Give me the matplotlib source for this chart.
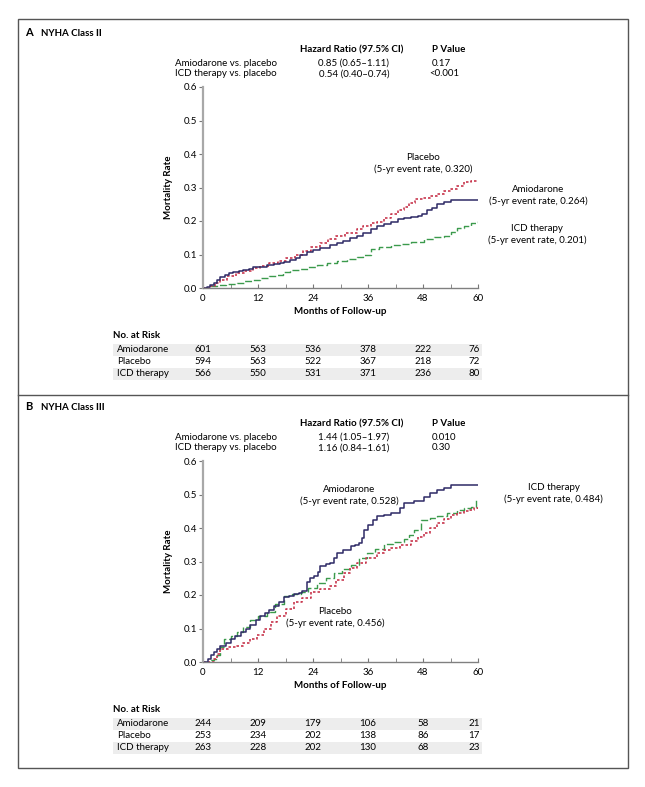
import numpy as np
import matplotlib
matplotlib.use("Agg")
import matplotlib.pyplot as plt
from matplotlib.patches import Rectangle
from matplotlib.lines import Line2D
import matplotlib.transforms as mtransforms

plt.rcParams['font.family'] = ['Lato', 'DejaVu Sans']
plt.rcParams['font.size'] = 7

W, H = 645, 787

# ---- data: panel A (NYHA class II) ----
a_amio_t = [0, 0.8, 1.5, 2.3, 3, 3.7, 4.8, 5.6, 6.6, 7.8, 8.8, 10, 11, 12.5, 13.9, 15.4,
            16.8, 17.6, 19, 20.2, 21.2, 22.7, 24.1, 25.6, 27.7, 29.3, 30.5, 32, 33.6,
            35, 36.6, 38, 39.5, 41, 42.5, 43.8, 45.3, 46.8, 47.8, 48.9, 50, 51.1, 52.5,
            54, 60]
a_amio_y = [0, 0.004, 0.009, 0.016, 0.024, 0.034, 0.04, 0.044, 0.047, 0.05, 0.054, 0.058,
            0.062, 0.064, 0.069, 0.072, 0.076, 0.079, 0.084, 0.09, 0.099, 0.106, 0.113,
            0.12, 0.128, 0.135, 0.14, 0.148, 0.155, 0.165, 0.175, 0.184, 0.19, 0.198,
            0.205, 0.209, 0.211, 0.216, 0.222, 0.232, 0.24, 0.252, 0.256, 0.264, 0.264]
a_plac_t = [0, 1.5, 2.6, 3.7, 5.2, 7.3, 9, 10.9, 12.5, 14.5, 16.3, 18.2, 20, 21.8, 23.5,
            25.5, 27.3, 29.1, 31, 33.6, 35, 36.6, 38, 39.5, 41, 42.5, 43.8, 45, 46.2,
            48, 49.5, 51.1, 52.5, 54, 55.5, 57, 58.5, 60]
a_plac_y = [0, 0.005, 0.014, 0.025, 0.035, 0.045, 0.052, 0.06, 0.066, 0.075, 0.082, 0.09,
            0.1, 0.11, 0.122, 0.135, 0.145, 0.155, 0.163, 0.176, 0.186, 0.193, 0.198,
            0.208, 0.22, 0.232, 0.243, 0.255, 0.267, 0.27, 0.276, 0.282, 0.29, 0.297,
            0.305, 0.317, 0.319, 0.320]
a_icd_t = [0, 1.5, 3, 5, 7.4, 9, 10.8, 12.5, 14.3, 16.2, 17.5, 19, 21, 23, 24.9, 27,
           29.3, 31.5, 33.6, 35, 36.6, 38.5, 41, 43, 45.3, 48.2, 50.5, 52.6, 54, 55.5,
           57, 58.5, 60]
a_icd_y = [0, 0.005, 0.01, 0.012, 0.015, 0.02, 0.025, 0.03, 0.035, 0.04, 0.047, 0.054,
           0.058, 0.064, 0.069, 0.075, 0.08, 0.087, 0.093, 0.1, 0.117, 0.123, 0.128,
           0.13, 0.138, 0.147, 0.152, 0.155, 0.168, 0.178, 0.185, 0.193, 0.201]

# ---- data: panel B (NYHA class III) ----
b_amio_t = [0, 1, 1.7, 2.3, 3, 3.8, 5, 6, 7, 8.2, 9.3, 10.3, 11.5, 12.5, 13.5, 14.5,
            15.4, 16.5, 17.6, 18.7, 19.8, 21, 21.6, 22.6, 23.4, 24.2, 25, 25.6, 26.8,
            27.8, 28.6, 29.3, 30.5, 32.2, 33.2, 34, 34.6, 35.1, 36, 37, 38, 39.5, 41,
            43, 43.8, 46, 48.2, 49.5, 51.1, 52.5, 54, 60]
b_amio_y = [0, 0.01, 0.02, 0.03, 0.04, 0.049, 0.058, 0.069, 0.078, 0.089, 0.1, 0.109,
            0.125, 0.138, 0.145, 0.155, 0.168, 0.18, 0.193, 0.196, 0.203, 0.205, 0.212,
            0.24, 0.25, 0.257, 0.27, 0.287, 0.292, 0.296, 0.31, 0.326, 0.335, 0.346,
            0.35, 0.356, 0.37, 0.395, 0.41, 0.425, 0.435, 0.44, 0.445, 0.46, 0.474,
            0.48, 0.494, 0.505, 0.514, 0.52, 0.528, 0.528]
b_plac_t = [0, 2.3, 3, 3.8, 5.5, 7.4, 8.8, 10.3, 11.8, 13.3, 14.8, 16.2, 18, 19.8, 21.5,
            23.5, 25.5, 27.8, 29, 30.7, 32, 33.6, 35.5, 38, 39.5, 41, 43, 45.3, 46.8,
            48.2, 49.5, 51.1, 52.5, 54, 55.5, 57, 58.2, 59.2, 60]
b_plac_y = [0, 0.01, 0.025, 0.04, 0.045, 0.049, 0.058, 0.069, 0.082, 0.099, 0.12, 0.138,
            0.158, 0.178, 0.19, 0.208, 0.217, 0.227, 0.245, 0.267, 0.282, 0.296, 0.31,
            0.326, 0.333, 0.341, 0.35, 0.361, 0.372, 0.385, 0.4, 0.415, 0.428, 0.44,
            0.444, 0.45, 0.455, 0.46, 0.456]
b_icd_t = [0, 1.6, 2.3, 3, 3.8, 4.5, 6, 7.4, 8.8, 10.3, 12, 14, 15.8, 17.6, 19.5, 21.3,
           23, 24.9, 26.8, 28.6, 30.4, 32.2, 34, 35.8, 37.5, 39.5, 41.5, 43.8, 45,
           46, 47.5, 49.5, 51.1, 53.3, 55.5, 57, 58.4, 59.5, 60]
b_icd_y = [0, 0.005, 0.01, 0.02, 0.045, 0.069, 0.078, 0.089, 0.105, 0.124, 0.136, 0.148,
           0.172, 0.198, 0.203, 0.208, 0.222, 0.237, 0.252, 0.267, 0.279, 0.291, 0.31,
           0.326, 0.338, 0.351, 0.358, 0.366, 0.38, 0.395, 0.425, 0.43, 0.435, 0.445,
           0.455, 0.46, 0.464, 0.484, 0.484]

risk_months = [0, 12, 24, 36, 48, 60]
groups = ['Amiodarone', 'Placebo', 'ICD therapy']
a_risk = [[601, 563, 536, 378, 222, 76],
          [594, 563, 522, 367, 218, 72],
          [566, 550, 531, 371, 236, 80]]
b_risk = [[244, 209, 179, 106, 58, 21],
          [253, 234, 202, 138, 86, 17],
          [263, 228, 202, 130, 68, 23]]

a_hr = [('Amiodarone vs. placebo', '0.85 (0.65\u20131.11)', '0.17'),
        ('ICD therapy vs. placebo', '0.54 (0.40\u20130.74)', '<0.001')]
b_hr = [('Amiodarone vs. placebo', '1.44 (1.05\u20131.97)', '0.010'),
        ('ICD therapy vs. placebo', '1.16 (0.84\u20131.61)', '0.30')]

c_amio = '#2e2a66'
c_plac = '#c8384f'
c_icd = '#3b9a4c'


def fx(px):
    return px / W


def fy(py):
    return 1 - py / H


fig = plt.figure(figsize=(6.45, 7.87), dpi=100)

# outer frame + divider
fig.patches.append(Rectangle((fx(18), fy(768)), fx(628) - fx(18), fy(19) - fy(768),
                             transform=fig.transFigure, fill=False, ec='#555555', lw=1))
fig.lines.append(Line2D([fx(18), fx(628)], [fy(395), fy(395)], transform=fig.transFigure,
                        color='#555555', lw=1))


def panel(top, letter, title, hr, curves, risk, notes):
    ax = fig.add_axes([fx(203), fy(top + 201), fx(478) - fx(203), 201 / H])
    fig.text(fx(25), fy(top - 54), letter, fontsize=8, fontweight='bold', va='center')
    fig.text(fx(41), fy(top - 54), title, fontsize=7, fontweight='bold', va='center')
    fig.text(fx(300), fy(top - 37), 'Hazard Ratio (97.5% CI)', fontweight='bold', va='center')
    fig.text(fx(449), fy(top - 37), 'P Value', fontweight='bold', va='center', ha='center')
    for i, (lab, h, p) in enumerate(hr):
        yy = fy(top - 24 + i * 11)
        fig.text(fx(175), yy, lab, va='center')
        fig.text(fx(354), yy, h, va='center', ha='center')
        if p.startswith('<'):
            fig.text(fx(429), yy, p, va='center')
        else:
            fig.text(fx(432), yy, p, va='center')

    for t, y, c, ls, lw in curves:
        ax.plot(t, y, drawstyle='steps-post', color=c, ls=ls, lw=lw)

    ax.set_xlim(0, 60)
    ax.set_ylim(0, 0.6)
    ax.set_xticks(risk_months)
    ax.set_xticks(np.arange(6, 60, 12), minor=True)
    ax.set_yticks(np.arange(0, 0.61, 0.1))
    ax.set_yticklabels(['%.1f' % v for v in np.arange(0, 0.61, 0.1)])
    ax.tick_params(axis='x', which='both', direction='in', length=3, color='#777777',
                   labelsize=7, pad=4)
    ax.tick_params(axis='y', direction='out', length=3, color='#777777', labelsize=7, pad=1)
    for s in ['top', 'right']:
        ax.spines[s].set_visible(False)
    ax.spines['left'].set_color('#a8a8a8')
    ax.spines['left'].set_linewidth(1.6)
    ax.spines['bottom'].set_color('#808080')
    ax.spines['bottom'].set_linewidth(1)
    ax.set_ylabel('Mortality Rate', fontweight='bold', labelpad=8)
    ax.set_xlabel('Months of Follow-up', fontweight='bold', labelpad=3)

    for x, y, s in notes:
        ax.text(x, y, s, ha='center', va='center', multialignment='center',
                linespacing=1.35, clip_on=False)

    # number at risk table
    trans = mtransforms.blended_transform_factory(ax.transData, fig.transFigure)
    fig.text(fx(113), fy(top + 248), 'No. at Risk', fontweight='bold', va='center')
    for i, g in enumerate(groups):
        ypx = top + 263 + i * 12
        if i != 1:
            fig.patches.append(Rectangle((fx(113), fy(ypx + 6)), fx(482) - fx(113), 12 / H,
                                         transform=fig.transFigure, fc='#ededed', ec='none',
                                         zorder=-5))
        fig.text(fx(117), fy(ypx), g, va='center')
        for m, n in zip(risk_months, risk[i]):
            if m == 60:
                ax.text(m + 0.4, fy(ypx), str(n), transform=trans, ha='right', va='center')
            else:
                ax.text(m, fy(ypx), str(n), transform=trans, ha='center', va='center')
    return ax


panel(87, 'A', 'NYHA Class II', a_hr,
      [(a_icd_t, a_icd_y, c_icd, (0, (5, 2)), 1.0),
       (a_plac_t, a_plac_y, c_plac, (0, (1.5, 1.2)), 1.2),
       (a_amio_t, a_amio_y, c_amio, '-', 1.1)],
      a_risk,
      [(48.0, 0.372, 'Placebo\n(5-yr event rate, 0.320)'),
       (73.1, 0.276, 'Amiodarone\n(5-yr event rate, 0.264)'),
       (72.9, 0.160, 'ICD therapy\n(5-yr event rate, 0.201)')])

panel(461, 'B', 'NYHA Class III', b_hr,
      [(b_icd_t, b_icd_y, c_icd, (0, (5, 2)), 1.0),
       (b_plac_t, b_plac_y, c_plac, (0, (1.5, 1.2)), 1.2),
       (b_amio_t, b_amio_y, c_amio, '-', 1.1)],
      b_risk,
      [(31.9, 0.496, 'Amiodarone\n(5-yr event rate, 0.528)'),
       (28.8, 0.134, 'Placebo\n(5-yr event rate, 0.456)'),
       (76.5, 0.503, 'ICD therapy\n(5-yr event rate, 0.484)')])

fig.savefig('out.png', dpi=100)
